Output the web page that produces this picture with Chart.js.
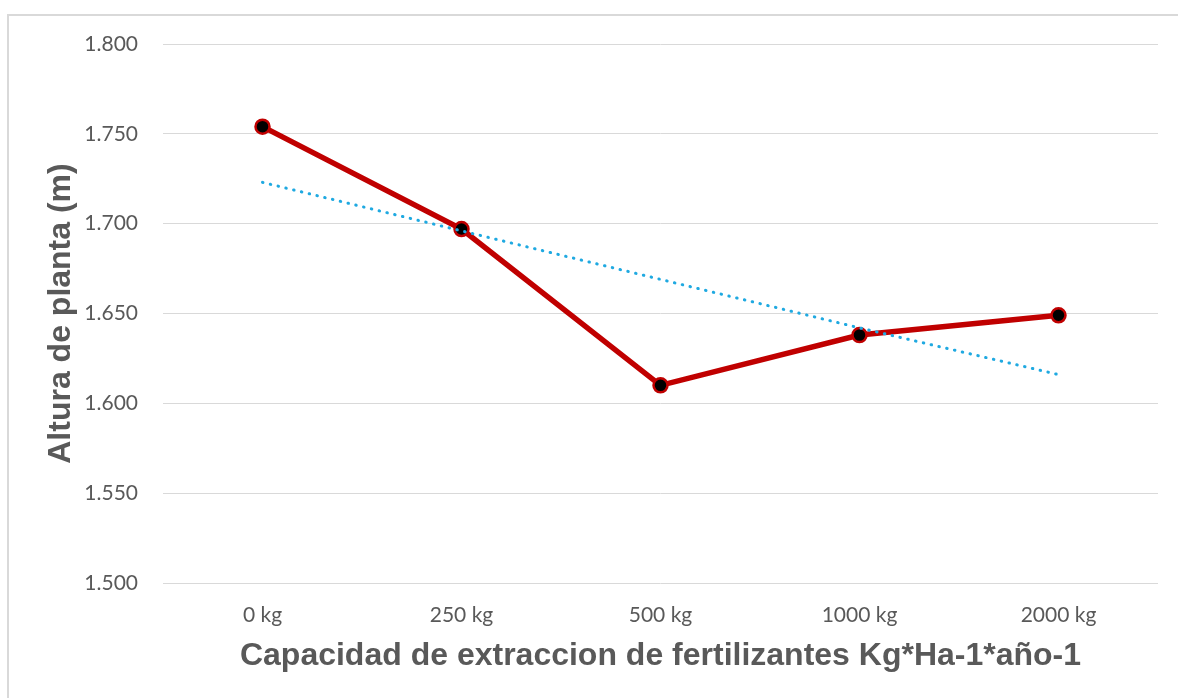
<!DOCTYPE html>
<html>
<head>
<meta charset="utf-8">
<script src="https://cdn.jsdelivr.net/npm/chart.js@4/dist/chart.umd.min.js"></script>
<style>
  html, body { margin: 0; padding: 0; background: #fff; }
  #frame { position: absolute; left: 7px; top: 14px; width: 1300px; height: 800px;
           border-left: 2px solid #d9d9d9; border-top: 2px solid #d9d9d9; }
  #wrap { position: absolute; left: 0; top: 0; width: 1178px; height: 698px; }
</style>
</head>
<body>
<div id="frame"></div>
<div id="wrap"><canvas id="chart" width="1178" height="698"></canvas></div>
<script>
// Categories and values
const categories = ['0 kg', '250 kg', '500 kg', '1000 kg', '2000 kg'];
const alturaPlanta = [1.754, 1.697, 1.610, 1.638, 1.649];
// Linear trendline
const tendencia = [1.723, 1.696, 1.669, 1.642, 1.616];
const yMin = 1.5;
const yMax = 1.8;
const yStep = 0.05;

const textColor = '#595959';

const ctx = document.getElementById('chart').getContext('2d');
const chart = new Chart(ctx, {
    type: 'line',
    data: {
        labels: categories,
        datasets: [{
            label: 'Lineal',
            data: tendencia,
            borderColor: '#1FA9E1',
            borderWidth: 3,
            borderDash: [0.5, 7.5],
            borderCapStyle: 'round',
            pointRadius: 0,
            fill: false,
            order: 0
        }, {
            label: 'Altura de planta (m)',
            data: alturaPlanta,
            borderColor: '#C00000',
            borderWidth: 5.5,
            pointRadius: 7,
            pointBorderWidth: 2.5,
            pointBorderColor: '#C00000',
            pointBackgroundColor: '#000000',
            fill: false,
            order: 1
        }]
    },
    options: {
        responsive: false,
        animation: false,
        layout: { padding: { top: 44, right: 20, left: 0, bottom: 0 } },
        plugins: {
            legend: { display: false },
            tooltip: { enabled: false }
        },
        scales: {
            x: {
                offset: true,
                grid: { display: false, drawTicks: false },
                border: { display: false },
                ticks: {
                    color: textColor,
                    padding: 20,
                    maxRotation: 0,
                    font: { family: 'Lato', size: 21 }
                },
                title: {
                    display: true,
                    text: 'Capacidad de extraccion de fertilizantes Kg*Ha-1*año-1',
                    color: textColor,
                    font: { family: 'Liberation Sans', size: 32, weight: 'bold' },
                    padding: { top: 0, bottom: 23 }
                },
                afterFit: function(scale) { scale.height = 115; }
            },
            y: {
                min: yMin,
                max: yMax,
                grid: { color: '#d9d9d9', lineWidth: 1, drawTicks: false },
                border: { display: false },
                ticks: {
                    stepSize: yStep,
                    color: textColor,
                    padding: 25,
                    font: { family: 'Lato', size: 21 },
                    callback: function(value) { return value.toFixed(3); }
                },
                title: {
                    display: true,
                    text: 'Altura de planta (m)',
                    color: textColor,
                    font: { family: 'Liberation Sans', size: 32, weight: 'bold' },
                    padding: { top: 42, bottom: 0 }
                },
                afterFit: function(scale) { scale.width = 163; }
            }
        }
    }
});
</script>
</body>
</html>
